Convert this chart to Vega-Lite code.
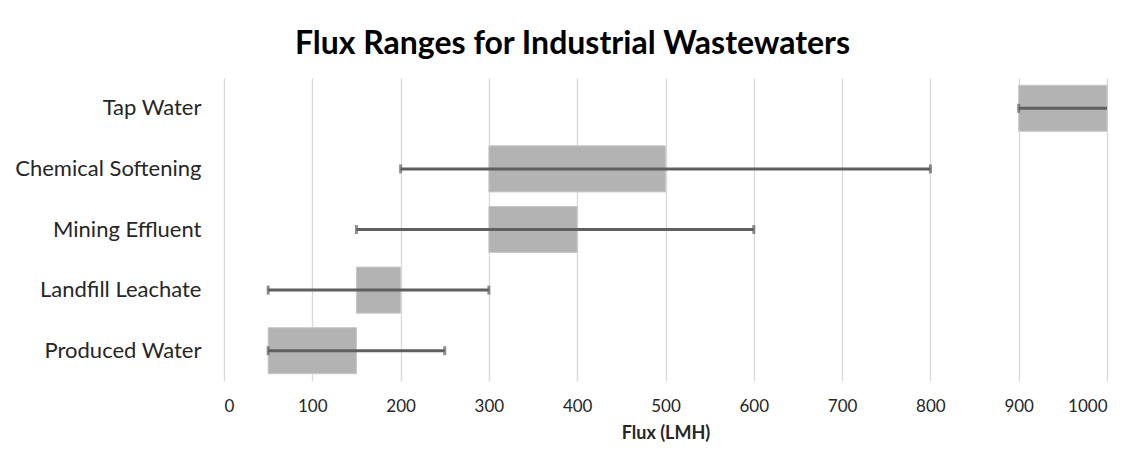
{
  "$schema": "https://vega.github.io/schema/vega-lite/v6.json",
  "autosize": {"type": "none"},
  "width": 883,
  "height": 303,
  "padding": {"left": 224, "top": 78, "right": 38, "bottom": 88},
  "background": "white",
  "title": {
    "text": "Flux Ranges for Industrial Wastewaters",
    "font": "Lato",
    "fontSize": 32,
    "fontWeight": "bold",
    "color": "#000000",
    "anchor": "middle",
    "dx": -93,
    "offset": 17
  },
  "config": {
    "view": {"stroke": null},
    "font": "Lato"
  },
  "data": {
    "values": [
      {"category": "Tap Water", "boxLow": 900, "boxHigh": 1000, "errLow": 900, "errHigh": 1000},
      {"category": "Chemical Softening", "boxLow": 300, "boxHigh": 500, "errLow": 200, "errHigh": 800},
      {"category": "Mining Effluent", "boxLow": 300, "boxHigh": 400, "errLow": 150, "errHigh": 600},
      {"category": "Landfill Leachate", "boxLow": 150, "boxHigh": 200, "errLow": 50, "errHigh": 300},
      {"category": "Produced Water", "boxLow": 50, "boxHigh": 150, "errLow": 50, "errHigh": 250}
    ]
  },
  "encoding": {
    "y": {
      "field": "category",
      "type": "nominal",
      "sort": null,
      "scale": {"paddingInner": 0.24, "paddingOuter": 0.12},
      "axis": {
        "title": null,
        "domain": false,
        "ticks": false,
        "grid": false,
        "labelFont": "Lato",
        "labelFontSize": 22,
        "labelColor": "#262626",
        "labelPadding": 23,
        "labelLimit": 300
      }
    }
  },
  "layer": [
    {
      "mark": {"type": "bar", "color": "#b3b3b3", "stroke": "#c8c8c8", "strokeWidth": 1},
      "encoding": {
        "x": {
          "field": "boxLow",
          "type": "quantitative",
          "scale": {"domain": [0, 1000], "nice": false},
          "axis": {
            "title": "Flux (LMH)",
            "titleFont": "Lato",
            "titleFontSize": 18,
            "titleFontWeight": "bold",
            "titleColor": "#262626",
            "titlePadding": 10,
            "values": [0, 100, 200, 300, 400, 500, 600, 700, 800, 900, 1000],
            "format": "d",
            "domain": false,
            "ticks": false,
            "grid": true,
            "gridColor": "#d9d9d9",
            "gridWidth": 1.3,
            "labelFont": "Lato",
            "labelFontSize": 17,
            "labelColor": "#262626",
            "labelPadding": 17
          }
        },
        "x2": {"field": "boxHigh"}
      }
    },
    {
      "mark": {"type": "rule", "color": "#5f5f5f", "strokeWidth": 3},
      "encoding": {
        "x": {"field": "errLow", "type": "quantitative"},
        "x2": {"field": "errHigh"}
      }
    },
    {
      "transform": [
        {"fold": ["errLow", "errHigh"], "as": ["end", "value"]},
        {"filter": "datum.value < 1000"}
      ],
      "mark": {"type": "tick", "color": "#5f5f5f", "thickness": 3, "size": 9, "orient": "vertical"},
      "encoding": {
        "x": {"field": "value", "type": "quantitative"}
      }
    }
  ]
}
